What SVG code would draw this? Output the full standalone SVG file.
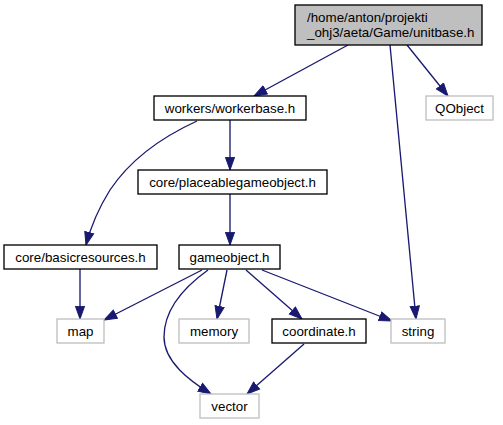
<svg xmlns="http://www.w3.org/2000/svg" width="503" height="425" viewBox="0 0 503 425">
<defs>
<style>
.n rect{fill:#ffffff;stroke:#000000;stroke-width:1.33}
.g rect{fill:#ffffff;stroke:#bfbfbf;stroke-width:1.33}
.top rect{fill:#bfbfbf;stroke:#000000;stroke-width:1.33}
text{font-family:"Liberation Sans",Arial,Helvetica,sans-serif;font-size:13.33px;fill:#000000}
.c{text-anchor:middle}
.e path{fill:none;stroke:#191970;stroke-width:1.33}
</style>
<marker id="a" markerUnits="userSpaceOnUse" markerWidth="16" markerHeight="12" refX="13.3" refY="5" orient="auto" viewBox="0 0 16 10">
<path d="M0.5,0.4 L13.3,5 L0.5,9.6 z" fill="#191970" stroke="#191970" stroke-width="1"/>
</marker>
</defs>
<rect width="503" height="425" fill="#ffffff"/>
<g id="edges" class="e">
<path d="M348,45 L254,96" marker-end="url(#a)"/>
<path d="M390,45 L416,319" marker-end="url(#a)"/>
<path d="M407,45 L448,96" marker-end="url(#a)"/>
<path d="M230,120 L230,170" marker-end="url(#a)"/>
<path d="M197,121 C162,137 130,160 110,190 C100,206 92,222 86,245" marker-end="url(#a)"/>
<path d="M230,194 L230,245" marker-end="url(#a)"/>
<path d="M80,269 L80,319" marker-end="url(#a)"/>
<path d="M202,270 L104,320" marker-end="url(#a)"/>
<path d="M208,270 C180,290 164,312 164,337 C164,362 190,381 211,394" marker-end="url(#a)"/>
<path d="M227,270 L217,319" marker-end="url(#a)"/>
<path d="M246,270 L302,319" marker-end="url(#a)"/>
<path d="M262,270 L392,321" marker-end="url(#a)"/>
<path d="M304,344 L247,394" marker-end="url(#a)"/>
</g>
<g id="unitbase" class="top">
<rect x="295" y="5" width="187" height="40"/>
<text x="307" y="22">/home/anton/projekti</text>
<text x="307" y="37">_ohj3/aeta/Game/unitbase.h</text>
</g>
<g id="QObject" class="g">
<rect x="426" y="96" width="67" height="24"/>
<text class="c" x="459.5" y="112.5">QObject</text>
</g>
<g id="workerbase" class="n">
<rect x="154" y="96" width="152" height="24"/>
<text class="c" x="230" y="112.5">workers/workerbase.h</text>
</g>
<g id="placeablegameobject" class="n">
<rect x="138" y="170" width="189" height="24"/>
<text class="c" x="232.5" y="186.5">core/placeablegameobject.h</text>
</g>
<g id="basicresources" class="n">
<rect x="4" y="245" width="153" height="24"/>
<text class="c" x="80.5" y="261.5">core/basicresources.h</text>
</g>
<g id="gameobject" class="n">
<rect x="179" y="245" width="101" height="24"/>
<text class="c" x="229.5" y="261.5">gameobject.h</text>
</g>
<g id="map" class="g">
<rect x="57" y="319" width="47" height="24"/>
<text class="c" x="80.5" y="335.5">map</text>
</g>
<g id="memory" class="g">
<rect x="179" y="319" width="70" height="24"/>
<text class="c" x="214" y="335.5">memory</text>
</g>
<g id="coordinate" class="n">
<rect x="272" y="319" width="94" height="24"/>
<text class="c" x="319" y="335.5">coordinate.h</text>
</g>
<g id="string" class="g">
<rect x="391" y="319" width="54" height="24"/>
<text class="c" x="418" y="335.5">string</text>
</g>
<g id="vector" class="g">
<rect x="200" y="394" width="59" height="24"/>
<text class="c" x="229.5" y="410.5">vector</text>
</g>
</svg>
